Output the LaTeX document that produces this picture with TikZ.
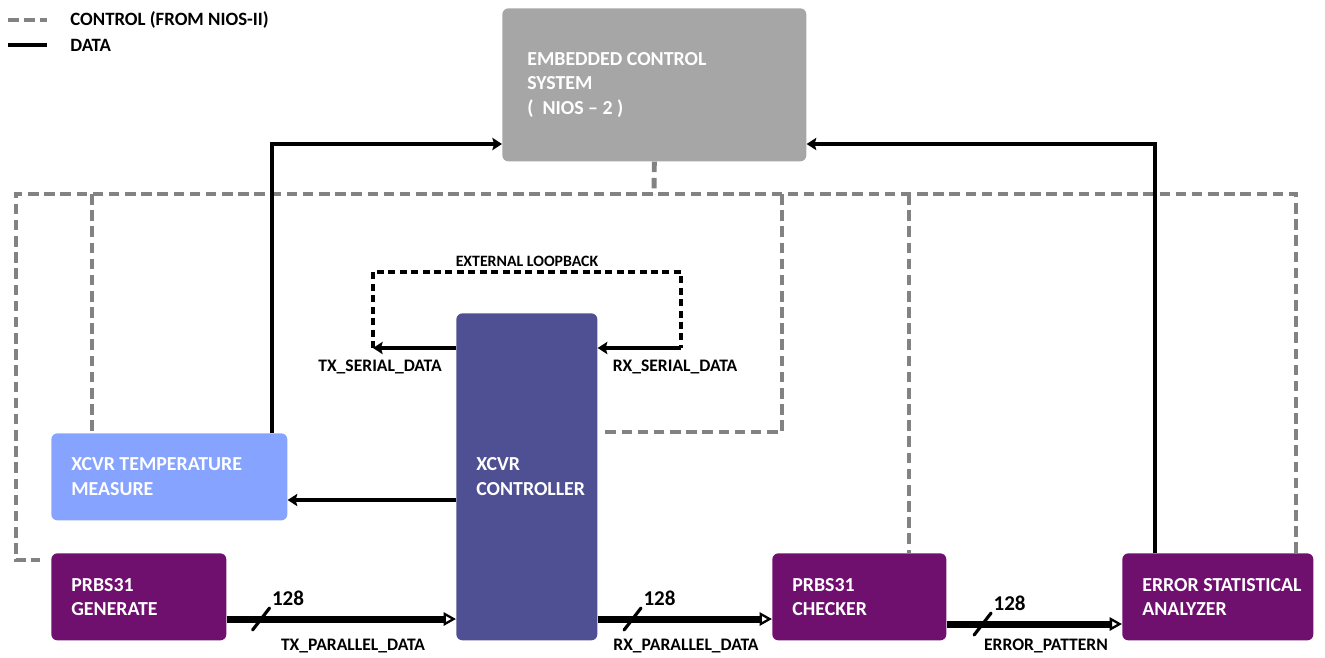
\documentclass[tikz,border=0pt]{standalone}
\usepackage{fontspec}
\setmainfont{Carlito}
\usepackage{tikz}
\usetikzlibrary{positioning,calc,arrows.meta}
\definecolor{NiosGray}{RGB}{166,166,166}
\definecolor{TempBlue}{RGB}{134,164,255}
\definecolor{XcvrBlue}{RGB}{79,79,148}
\definecolor{PrbsPurple}{RGB}{111,16,111}
\definecolor{CtrlGray}{RGB}{130,130,130}

\begin{document}
\begin{tikzpicture}[
        x=0.02cm, y=-0.02cm,
        >={Stealth[length=5.5pt,width=7pt,inset=1pt]},
        % --- BLOCKS ---
        block/.style={
            rectangle, rounded corners=0.12cm, anchor=north west,
            inner xsep=0.4cm, inner ysep=0pt, align=flush left,
            text=white, font=\bfseries\fontsize{11.3}{14}\selectfont
        },
        % --- LINES ---
        ctrl/.style={draw=CtrlGray, line width=2.8pt, dash pattern=on 6pt off 3.2pt},
        data/.style={line width=2.2pt},
        loopline/.style={line width=1.8pt, dash pattern=on 4pt off 2.5pt},
        bus/.style={line width=4pt, -{Triangle[open,length=7pt,width=7.5pt,line width=1.3pt]}},
        slash/.style={line width=1.8pt, line cap=round},
        % --- TEXT ---
        sig/.style={font=\bfseries\fontsize{10}{12}\selectfont, inner sep=1pt},
        loopsig/.style={font=\bfseries\fontsize{9}{11}\selectfont, inner sep=1pt},
        buswidth/.style={font=\bfseries\fontsize{12}{14}\selectfont, inner sep=0.5pt, anchor=south west},
        legtxt/.style={font=\bfseries\fontsize{10.7}{12}\selectfont, anchor=west, inner sep=0pt}
    ]
    \useasboundingbox (0,0) rectangle (1325,657);

    % --- LEGEND ---
    \node[legtxt] (legctrl) at (70,20) {CONTROL (FROM NIOS-II)};
    \node[legtxt] (legdata) at (70,45) {DATA};
    \draw[ctrl] (8,20) -- (47,20);
    \draw[data] (8,45) -- (47,45);

    % --- BLOCKS ---
    \node[block, fill=NiosGray, inner xsep=0.5cm, text width=5.08cm, minimum height=3.06cm]
        (ecs) at (502,8) {EMBEDDED CONTROL\\SYSTEM\\( \ NIOS -- 2 )};
    \node[block, fill=TempBlue, text width=3.92cm, minimum height=1.74cm]
        (temp) at (51,433) {XCVR TEMPERATURE\\MEASURE};
    \node[block, fill=XcvrBlue, text width=2.02cm, minimum height=6.54cm]
        (xcvr) at (456,313) {XCVR\\\mbox{CONTROLLER}};
    \node[block, fill=PrbsPurple, text width=2.7cm, minimum height=1.74cm]
        (gen) at (51,553) {PRBS31\\GENERATE};
    \node[block, fill=PrbsPurple, text width=2.68cm, minimum height=1.74cm]
        (chk) at (772,553) {PRBS31\\CHECKER};
    \node[block, fill=PrbsPurple, text width=3.02cm, minimum height=1.74cm]
        (ana) at (1122,553) {\mbox{ERROR STATISTICAL}\\ANALYZER};

    % --- CONTROL BUS ---
    \coordinate (cbus) at (654,194);
    \coordinate (cleft) at (16,194);
    \coordinate (cright) at (1296,194);
    \coordinate (ctemp) at (92,194);
    \coordinate (cxcvr) at (782,194);
    \coordinate (cchk) at (909,194);
    \coordinate (genin) at (40,560);
    \coordinate (xcvrin) at (600,432);
    \draw[ctrl] (ecs.south) -- (cbus);
    \draw[ctrl] (cright |- ana.north) -- (cright) -- (cleft) |- (genin);
    \draw[ctrl] (ctemp) -- (ctemp |- temp.north);
    \draw[ctrl] (cxcvr) |- (xcvrin);
    \draw[ctrl] (cchk) -- (cchk |- chk.north);

    % --- DATA TO NIOS ---
    \coordinate (tup) at (272,144);
    \coordinate (aup) at (1155,144);
    \draw[data, ->] (tup |- temp.north) -- (tup) -- (tup -| ecs.west);
    \draw[data, ->] (aup |- ana.north) -- (aup) -- (aup -| ecs.east);
    \coordinate (tempy) at (0,500);
    \draw[data, ->] (xcvr.west |- tempy) -- (temp.east |- tempy);

    % --- EXTERNAL LOOPBACK ---
    \coordinate (sery) at (0,348);
    \coordinate (lpL) at (373,272);
    \coordinate (lpR) at (681,272);
    \draw[data, ->] (xcvr.west |- sery) -- (lpL |- sery);
    \draw[loopline] (lpL |- sery) -- (lpL) -- (lpR) -- (lpR |- sery);
    \draw[data, ->] (lpR |- sery) -- (xcvr.east |- sery);
    \node[loopsig, above=2pt] (extlbl) at ($(lpL)!0.5!(lpR)$) {EXTERNAL LOOPBACK};
    \node[sig] (txser) at (380,367) {TX\_SERIAL\_DATA};
    \node[sig] (rxser) at (675,367) {RX\_SERIAL\_DATA};

    % --- PARALLEL BUSES ---
    \coordinate (busy) at (0,619);
    \coordinate (erry) at (0,624);
    \draw[bus] (gen.east |- busy) -- coordinate[pos=0.15] (txs) (xcvr.west |- busy);
    \draw[bus] (xcvr.east |- busy) -- coordinate[pos=0.2] (rxs) (chk.west |- busy);
    \draw[bus] (chk.east |- erry) -- coordinate[pos=0.205] (ers) (ana.west |- erry);
    \draw[slash] (txs) ++(-8.5,11) -- ++(17,-22) node[buswidth] (txw) {128};
    \draw[slash] (rxs) ++(-8.5,11) -- ++(17,-22) node[buswidth] (rxw) {128};
    \draw[slash] (ers) ++(-8.5,11) -- ++(17,-22) node[buswidth] (erw) {128};
    \node[sig] (txpar) at (353,646) {TX\_PARALLEL\_DATA};
    \node[sig] (rxpar) at (686,646) {RX\_PARALLEL\_DATA};
    \node[sig] (errpat) at (1046,646) {ERROR\_PATTERN};

\end{tikzpicture}
\end{document}
